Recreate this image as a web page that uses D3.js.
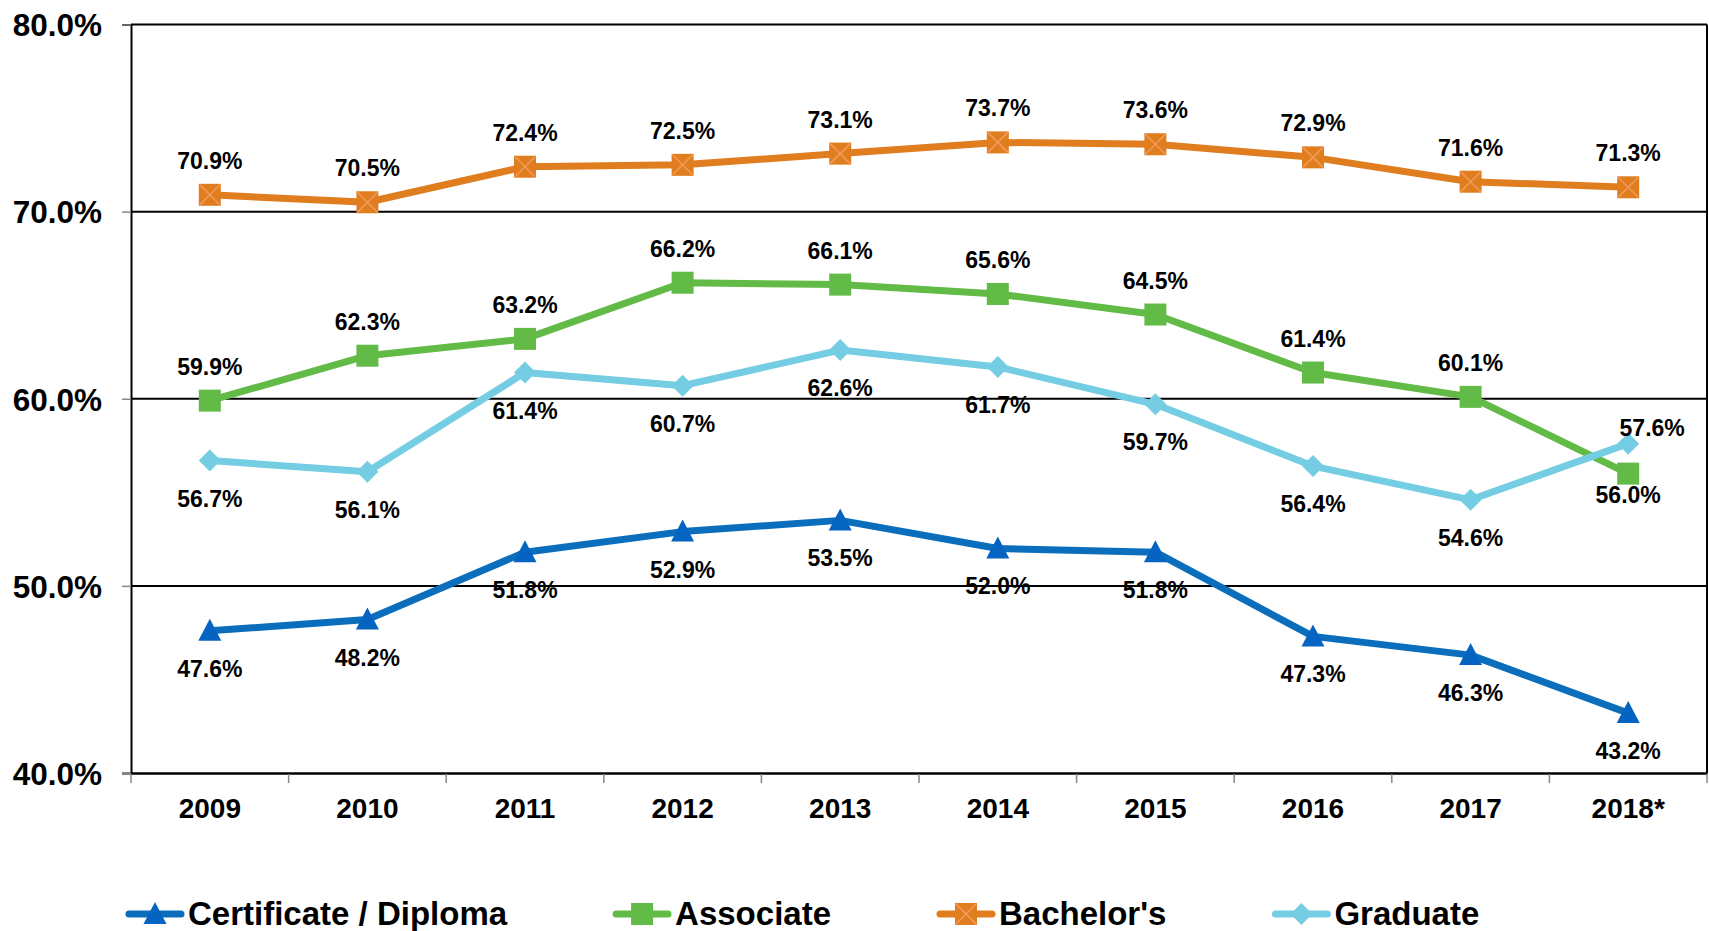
<!DOCTYPE html>
<html>
<head>
<meta charset="utf-8">
<script src="https://cdn.jsdelivr.net/npm/d3@7"></script>
<style>
  body { margin: 0; background: #fff; }
  text { font-family: "Liberation Sans", Arial, sans-serif; font-weight: bold; fill: #000; }
</style>
</head>
<body>
<div id="chart"></div>
<script>
var years = ["2009", "2010", "2011", "2012", "2013", "2014", "2015", "2016", "2017", "2018*"];
var certificate = [47.6, 48.2, 51.8, 52.9, 53.5, 52.0, 51.8, 47.3, 46.3, 43.2];
var associate = [59.9, 62.3, 63.2, 66.2, 66.1, 65.6, 64.5, 61.4, 60.1, 56.0];
var bachelors = [70.9, 70.5, 72.4, 72.5, 73.1, 73.7, 73.6, 72.9, 71.6, 71.3];
var graduate = [56.7, 56.1, 61.4, 60.7, 62.6, 61.7, 59.7, 56.4, 54.6, 57.6];
var yTicks = [40, 50, 60, 70, 80];
var seriesNames = ["Certificate / Diploma", "Associate", "Bachelor's", "Graduate"];

var w = 1709, h = 931;
var plotLeft = 131, plotRight = 1707, plotTop = 24.5, plotBottom = 773;

var series = [
    { name: seriesNames[0], values: certificate, line: "#0A6EBD", fill: "#0563C1", marker: "triangle", pos: "below" },
    { name: seriesNames[1], values: associate, line: "#62BB46", fill: "#62BB46", marker: "square", pos: "above" },
    { name: seriesNames[2], values: bachelors, line: "#E07D1F", fill: "#E07D1F", marker: "xsquare", pos: "above" },
    { name: seriesNames[3], values: graduate, line: "#75CDE3", fill: "#75CDE3", marker: "diamond", pos: "below" }
];

var svg = d3.select("#chart").append("svg")
    .attr("width", w)
    .attr("height", h);

var x = d3.scaleBand().domain(years).range([plotLeft, plotRight]);
var y = d3.scaleLinear().domain([40, 80]).range([plotBottom, plotTop]);

// gridlines
svg.append("g").selectAll("line")
    .data(yTicks.slice(1))
    .enter().append("line")
    .attr("x1", plotLeft).attr("x2", plotRight)
    .attr("y1", function (d) { return y(d); })
    .attr("y2", function (d) { return y(d); })
    .attr("stroke", "#000")
    .attr("stroke-width", 2);

// right border
svg.append("line")
    .attr("x1", plotRight).attr("x2", plotRight)
    .attr("y1", plotTop).attr("y2", plotBottom)
    .attr("stroke", "#000").attr("stroke-width", 2);

// y axis
var yaxis = d3.axisLeft(y)
    .tickValues(yTicks)
    .tickSize(9)
    .tickPadding(20)
    .tickFormat(function (d) { return d.toFixed(1) + "%"; });

var gy = svg.append("g")
    .attr("transform", "translate(" + plotLeft + ",0)")
    .call(yaxis);
gy.select(".domain").attr("stroke", "#000").attr("stroke-width", 2);
gy.selectAll(".tick line").attr("stroke", "#888").attr("stroke-width", 1.5);
gy.selectAll(".tick text")
    .attr("font-size", 31.5)
    .attr("font-family", "'Liberation Sans', Arial, sans-serif")
    .attr("font-weight", "bold")
    .attr("fill", "#000")
    .attr("dy", "0.36em");

// x axis
var xaxis = d3.axisBottom(x).tickSize(0).tickPadding(0);
var gx = svg.append("g")
    .attr("transform", "translate(0," + plotBottom + ")")
    .call(xaxis);
gx.select(".domain").attr("stroke", "#000").attr("stroke-width", 2.5);
gx.selectAll(".tick text")
    .attr("font-size", 28)
    .attr("font-family", "'Liberation Sans', Arial, sans-serif")
    .attr("font-weight", "bold")
    .attr("fill", "#000")
    .attr("y", 45)
    .attr("dy", 0);

// category boundary ticks
var bounds = years.map(function (d) { return x(d); }).concat([plotRight]);
gx.selectAll(".bound")
    .data(bounds)
    .enter().append("line")
    .attr("class", "bound")
    .attr("x1", function (d) { return d; })
    .attr("x2", function (d) { return d; })
    .attr("y1", 1).attr("y2", 10)
    .attr("stroke", "#888").attr("stroke-width", 1.5);

function drawMarker(g, type, fill, cx, cy) {
    if (type === "triangle") {
        g.append("path")
            .attr("d", "M" + cx + "," + (cy - 12) + "L" + (cx + 11.5) + "," + (cy + 10) + "L" + (cx - 11.5) + "," + (cy + 10) + "Z")
            .attr("fill", fill);
    } else if (type === "square" || type === "xsquare") {
        g.append("rect")
            .attr("x", cx - 11).attr("y", cy - 11)
            .attr("width", 22).attr("height", 22)
            .attr("fill", fill);
        if (type === "xsquare") {
            g.append("path")
                .attr("d", "M" + (cx - 10) + "," + (cy - 10) + "L" + (cx + 10) + "," + (cy + 10) +
                    "M" + (cx + 10) + "," + (cy - 10) + "L" + (cx - 10) + "," + (cy + 10))
                .attr("stroke", "#F29B5C")
                .attr("stroke-width", 1.5);
        }
    } else if (type === "diamond") {
        g.append("path")
            .attr("d", "M" + cx + "," + (cy - 11) + "L" + (cx + 11) + "," + cy + "L" + cx + "," + (cy + 11) + "L" + (cx - 11) + "," + cy + "Z")
            .attr("fill", fill);
    }
}

var line = d3.line()
    .x(function (d, i) { return x(years[i]) + x.bandwidth() / 2; })
    .y(function (d) { return y(d); });

series.forEach(function (s) {
    var g = svg.append("g");
    g.append("path")
        .datum(s.values)
        .attr("d", line)
        .attr("fill", "none")
        .attr("stroke", s.line)
        .attr("stroke-width", 7)
        .attr("stroke-linejoin", "round");
    s.values.forEach(function (v, i) {
        drawMarker(g, s.marker, s.fill, x(years[i]) + x.bandwidth() / 2, y(v));
    });
});

// data labels
series.forEach(function (s) {
    svg.append("g").selectAll("text")
        .data(s.values)
        .enter().append("text")
        .attr("font-size", 23)
        .attr("text-anchor", "middle")
        .attr("x", function (d, i) {
            var cx = x(years[i]) + x.bandwidth() / 2;
            if (s.name === "Graduate" && i === s.values.length - 1) cx += 24;
            return cx;
        })
        .attr("y", function (d, i) {
            var last = i === s.values.length - 1;
            // last two labels were moved by hand in the original
            if (s.name === "Associate" && last) return y(d) + 29;
            if (s.name === "Graduate" && last) return y(d) - 8;
            return s.pos === "above" ? y(d) - 26 : y(d) + 46;
        })
        .text(function (d) { return d.toFixed(1) + "%"; });
});

// legend
var legend = svg.append("g");
var lx = 126, ly = 914;
series.forEach(function (s) {
    var item = legend.append("g");
    item.append("line")
        .attr("x1", lx + 3).attr("x2", lx + 55)
        .attr("y1", ly).attr("y2", ly)
        .attr("stroke", s.line)
        .attr("stroke-width", 7)
        .attr("stroke-linecap", "round");
    drawMarker(item, s.marker, s.fill, lx + 29, ly);
    var t = item.append("text")
        .attr("x", lx + 62)
        .attr("y", ly + 11)
        .attr("font-size", 33)
        .text(s.name);
    lx += 62 + t.node().getComputedTextLength() + 106;
});
</script>
</body>
</html>
